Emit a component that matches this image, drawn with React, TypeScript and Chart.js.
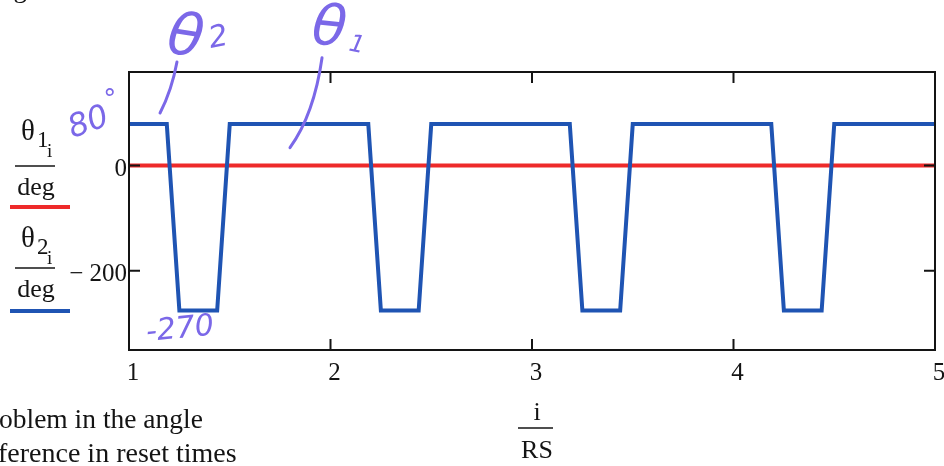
import { useEffect, useRef } from "react";
import { Chart, registerables } from "chart.js";

Chart.register(...registerables);

// i/RS sample positions where theta2 changes state
const RATIO_POINTS = [1, 1.1875, 1.25, 1.4375, 1.5, 2.1875, 2.25, 2.4375, 2.5, 3.1875, 3.25, 3.4375, 3.5, 4.1875, 4.25, 4.4375, 4.5, 5];
// theta1 / deg
const THETA1_DEG = [0, 0, 0, 0, 0, 0, 0, 0, 0, 0, 0, 0, 0, 0, 0, 0, 0, 0];
// theta2 / deg
const THETA2_DEG = [79, 79, -276, -276, 79, 79, -276, -276, 79, 79, -276, -276, 79, 79, -276, -276, 79, 79];

const X_TICKS = [1, 2, 3, 4, 5];
const Y_TICKS = [0, -200];
const X_MIN = 1;
const X_MAX = 5;
const Y_MIN = -351;
const Y_MAX = 178;

// hand-written notes, placed in data coordinates
const NOTE_TEXTS = ["θ", "2", "θ", "1", "80", "°", "-270"];
const NOTE_X = [1.278, 1.445, 1.993, 2.13, 0.8, 0.905, 1.253];
const NOTE_Y = [239, 242, 257, 228, 80, 123, -313];
const NOTE_SIZES = [58, 30, 56, 24, 32, 26, 30];
const NOTE_ROT = [0.15, -0.2, 0.1, 0.2, -0.35, 0, -0.1];
// pointer strokes: start, control, end (x, y pairs)
const POINTER_X = [[1.238, 1.213, 1.154], [1.958, 1.918, 1.799]];
const POINTER_Y = [[197, 144, 100], [205, 97, 34]];

const BLUE = "#1f54b3";
const RED = "#ee2a2a";
const INK = "#7b68e8";
const TEXT = "#141414";
const SERIF = "'Liberation Serif', 'Times New Roman', serif";

const decorations = {
  id: "mathcadDecor",
  afterDatasetsDraw(chart: any) {
    const { ctx, chartArea: a, scales } = chart;
    const xs = scales.x;
    const ys = scales.y;
    ctx.save();
    ctx.strokeStyle = TEXT;
    ctx.lineWidth = 2;
    ctx.strokeRect(a.left, a.top, a.right - a.left, a.bottom - a.top);
    const tl = 11;
    ctx.beginPath();
    for (const v of Y_TICKS) {
      const y = ys.getPixelForValue(v);
      ctx.moveTo(a.left, y);
      ctx.lineTo(a.left + tl, y);
      ctx.moveTo(a.right, y);
      ctx.lineTo(a.right - tl, y);
    }
    for (const v of X_TICKS) {
      const x = xs.getPixelForValue(v);
      ctx.moveTo(x, a.top);
      ctx.lineTo(x, a.top + tl);
      ctx.moveTo(x, a.bottom);
      ctx.lineTo(x, a.bottom - tl);
    }
    ctx.stroke();
    ctx.restore();
  },
  afterDraw(chart: any) {
    const { ctx, scales } = chart;
    const xs = scales.x;
    const ys = scales.y;
    ctx.save();
    ctx.fillStyle = TEXT;
    ctx.strokeStyle = TEXT;
    ctx.textBaseline = "alphabetic";

    const txt = (s: string, x: number, y: number, size: number, align: CanvasTextAlign = "left") => {
      ctx.font = `${size}px ${SERIF}`;
      ctx.textAlign = align;
      ctx.fillText(s, x, y);
    };
    const bar = (x0: number, x1: number, y: number) => {
      ctx.lineWidth = 1.6;
      ctx.beginPath();
      ctx.moveTo(x0, y);
      ctx.lineTo(x1, y);
      ctx.stroke();
    };

    // trace labels on the left
    txt("θ", 21, 140, 29);
    txt("1", 37, 147, 23);
    txt("i", 47, 157, 19);
    bar(15, 55, 166);
    txt("deg", 36, 195, 26, "center");
    ctx.strokeStyle = RED;
    ctx.lineWidth = 4;
    ctx.beginPath();
    ctx.moveTo(10, 207);
    ctx.lineTo(70, 207);
    ctx.stroke();

    ctx.strokeStyle = TEXT;
    txt("θ", 21, 247, 29);
    txt("2", 37, 254, 23);
    txt("i", 47, 264, 19);
    bar(15, 55, 268);
    txt("deg", 36, 297, 26, "center");
    ctx.strokeStyle = BLUE;
    ctx.lineWidth = 4;
    ctx.beginPath();
    ctx.moveTo(10, 311);
    ctx.lineTo(70, 311);
    ctx.stroke();

    // x axis title
    ctx.strokeStyle = TEXT;
    txt("i", 537, 420, 26, "center");
    bar(518, 553, 428);
    txt("RS", 537, 458, 26, "center");

    // surrounding page text
    txt("ngle", 0, -3, 27);
    txt("oblem in the angle", -1, 428, 27.5);
    txt("ference in reset times", -2, 462, 28);

    // hand-written notes
    ctx.fillStyle = INK;
    ctx.strokeStyle = INK;
    ctx.lineCap = "round";
    ctx.lineWidth = 3;
    for (let k = 0; k < POINTER_X.length; k++) {
      const px = POINTER_X[k].map((v) => xs.getPixelForValue(v));
      const py = POINTER_Y[k].map((v) => ys.getPixelForValue(v));
      ctx.beginPath();
      ctx.moveTo(px[0], py[0]);
      ctx.quadraticCurveTo(px[1], py[1], px[2], py[2]);
      ctx.stroke();
    }
    for (let k = 0; k < NOTE_TEXTS.length; k++) {
      const x = xs.getPixelForValue(NOTE_X[k]);
      const y = ys.getPixelForValue(NOTE_Y[k]);
      ctx.save();
      ctx.translate(x, y);
      ctx.rotate(NOTE_ROT[k]);
      ctx.font = `italic 200 ${NOTE_SIZES[k]}px 'DejaVu Sans'`;
      ctx.textAlign = "center";
      ctx.textBaseline = "middle";
      ctx.fillText(NOTE_TEXTS[k], 0, 0);
      ctx.restore();
    }
    ctx.restore();
  },
};

export default function App() {
  const ref = useRef<HTMLCanvasElement>(null);

  useEffect(() => {
    document.body.style.margin = "0";
    const canvas = ref.current;
    if (!canvas) return;
    const chart = new Chart(canvas, {
      type: "line",
      data: {
        datasets: [
          {
            label: "θ2",
            data: RATIO_POINTS.map((x, i) => ({ x, y: THETA2_DEG[i] })),
            borderColor: BLUE,
            borderWidth: 4,
            pointRadius: 0,
            tension: 0,
            order: 0,
          },
          {
            label: "θ1",
            data: RATIO_POINTS.map((x, i) => ({ x, y: THETA1_DEG[i] })),
            borderColor: RED,
            borderWidth: 4,
            pointRadius: 0,
            tension: 0,
            order: 1,
          },
        ],
      },
      options: {
        animation: false,
        responsive: false,
        maintainAspectRatio: false,
        devicePixelRatio: 1,
        layout: { padding: { top: 72, right: 9, left: 0, bottom: 0 } },
        plugins: { legend: { display: false }, tooltip: { enabled: false } },
        scales: {
          x: {
            type: "linear",
            min: X_MIN,
            max: X_MAX,
            afterBuildTicks: (s: any) => {
              s.ticks = X_TICKS.map((value) => ({ value }));
            },
            afterFit: (s: any) => {
              s.height = 116;
              s.paddingLeft = 0;
              s.paddingRight = 0;
            },
            grid: { display: false, drawTicks: false },
            border: { display: false },
            ticks: {
              color: TEXT,
              font: { family: SERIF, size: 25 },
              padding: 8,
              labelOffset: 4,
              maxRotation: 0,
              autoSkip: false,
            },
          },
          y: {
            type: "linear",
            min: Y_MIN,
            max: Y_MAX,
            afterBuildTicks: (s: any) => {
              s.ticks = Y_TICKS.map((value) => ({ value }));
            },
            afterFit: (s: any) => {
              s.width = 129;
              s.paddingTop = 0;
              s.paddingBottom = 0;
            },
            grid: { display: false, drawTicks: false },
            border: { display: false },
            ticks: {
              color: TEXT,
              font: { family: SERIF, size: 25 },
              padding: 2,
              labelOffset: 4,
              autoSkip: false,
              callback: (v: any) => (v < 0 ? "− " + Math.abs(v) : String(v)),
            },
          },
        },
      },
      plugins: [decorations],
    });
    return () => chart.destroy();
  }, []);

  return (
    <div style={{ position: "absolute", left: 0, top: 0, width: 944, height: 466, background: "#fff" }}>
      <canvas ref={ref} width={944} height={466} style={{ width: 944, height: 466, display: "block" }} />
    </div>
  );
}
